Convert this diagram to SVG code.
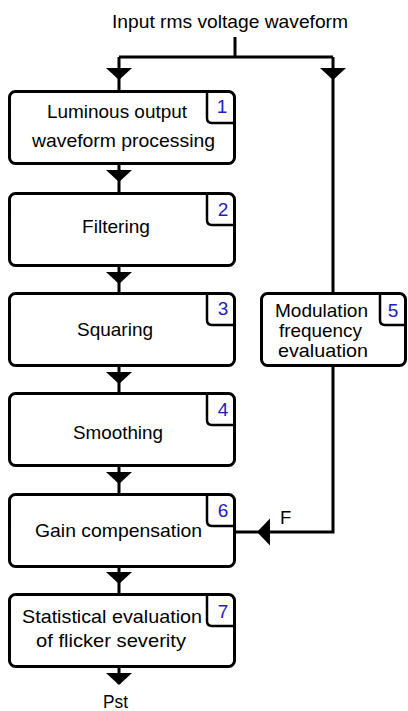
<svg xmlns="http://www.w3.org/2000/svg" width="408" height="711" viewBox="0 0 408 711">
<style>
.box{fill:#fff;stroke:#000;stroke-width:3}
.tab{fill:none;stroke:#000;stroke-width:2.5}
.t{font-family:"Liberation Sans",Arial,sans-serif;font-size:18.6px;fill:#000}
.n{font-family:"Liberation Sans",Arial,sans-serif;font-size:19px;fill:#1c1cc0;text-anchor:middle}
.ln{fill:none;stroke:#000;stroke-width:3}
.ar{fill:#000;stroke:none}
</style>
<rect width="408" height="711" fill="#fff"/>
<text class="t" x="112" y="28" font-size="17" textLength="236" lengthAdjust="spacingAndGlyphs">Input rms voltage waveform</text>
<g id="connectors">
<path class="ln" d="M235,37V57M119,57H333M119,57V90M333,57V292"/>
<polygon class="ar" points="106,68 132,68 119,80"/>
<polygon class="ar" points="320,68 346,68 333,80"/>
<path class="ln" d="M119,165V192M119,267V292M119,367V392M119,467V493M119,567V593M119,668V684"/>
<polygon class="ar" points="106,170 132,170 119,182"/>
<polygon class="ar" points="106,272 132,272 119,284"/>
<polygon class="ar" points="106,372 132,372 119,384"/>
<polygon class="ar" points="106,472 132,472 119,484"/>
<polygon class="ar" points="106,572 132,572 119,584"/>
<polygon class="ar" points="106,673 132,673 119,685"/>
<path class="ln" d="M333,367V532H236"/>
<polygon class="ar" points="257,532 270,518.5 270,545.5"/>
<text class="t" x="280" y="524">F</text>
<text class="t" x="103" y="708" textLength="25" lengthAdjust="spacingAndGlyphs">Pst</text>
</g>
<g id="node1">
<rect class="box" x="9.5" y="91.5" width="225" height="72" rx="6"/>
<path class="tab" d="M207,91.5V118Q207,123 212,123H234.5"/>
<text class="n" x="222" y="113">1</text>
<text class="t" x="47" y="118" textLength="140" lengthAdjust="spacingAndGlyphs">Luminous output</text>
<text class="t" x="32" y="147" textLength="183" lengthAdjust="spacingAndGlyphs">waveform processing</text>
</g>
<g id="node2">
<rect class="box" x="9.5" y="193.5" width="225" height="72" rx="6"/>
<path class="tab" d="M207,193.5V220Q207,225 212,225H234.5"/>
<text class="n" x="223" y="216">2</text>
<text class="t" x="82" y="233" textLength="68" lengthAdjust="spacingAndGlyphs">Filtering</text>
</g>
<g id="node3">
<rect class="box" x="9.5" y="293.5" width="225" height="72" rx="6"/>
<path class="tab" d="M207,293.5V320Q207,325 212,325H234.5"/>
<text class="n" x="223" y="315">3</text>
<text class="t" x="77" y="336" textLength="76" lengthAdjust="spacingAndGlyphs">Squaring</text>
</g>
<g id="node4">
<rect class="box" x="9.5" y="393.5" width="225" height="72" rx="6"/>
<path class="tab" d="M207,393.5V420Q207,425 212,425H234.5"/>
<text class="n" x="223" y="416">4</text>
<text class="t" x="73" y="439" textLength="90" lengthAdjust="spacingAndGlyphs">Smoothing</text>
</g>
<g id="node6">
<rect class="box" x="9.5" y="494.5" width="225" height="72" rx="6"/>
<path class="tab" d="M207,494.5V521Q207,526 212,526H234.5"/>
<text class="n" x="223" y="517">6</text>
<text class="t" x="35" y="537" textLength="167" lengthAdjust="spacingAndGlyphs">Gain compensation</text>
</g>
<g id="node7">
<rect class="box" x="9.5" y="594.5" width="225" height="72" rx="6"/>
<path class="tab" d="M207,594.5V621Q207,626 212,626H234.5"/>
<text class="n" x="223" y="618">7</text>
<text class="t" x="22" y="623" textLength="180" lengthAdjust="spacingAndGlyphs">Statistical evaluation</text>
<text class="t" x="36" y="647" textLength="150" lengthAdjust="spacingAndGlyphs">of flicker severity</text>
</g>
<g id="node5">
<rect class="box" x="261.5" y="293.5" width="144" height="72" rx="6"/>
<path class="tab" d="M380,293.5V320Q380,325 385,325H405.5"/>
<text class="n" x="393" y="317">5</text>
<text class="t" x="275" y="317" textLength="93" lengthAdjust="spacingAndGlyphs">Modulation</text>
<text class="t" x="279" y="337" textLength="83" lengthAdjust="spacingAndGlyphs">frequency</text>
<text class="t" x="278" y="357" textLength="90" lengthAdjust="spacingAndGlyphs">evaluation</text>
</g>
</svg>
